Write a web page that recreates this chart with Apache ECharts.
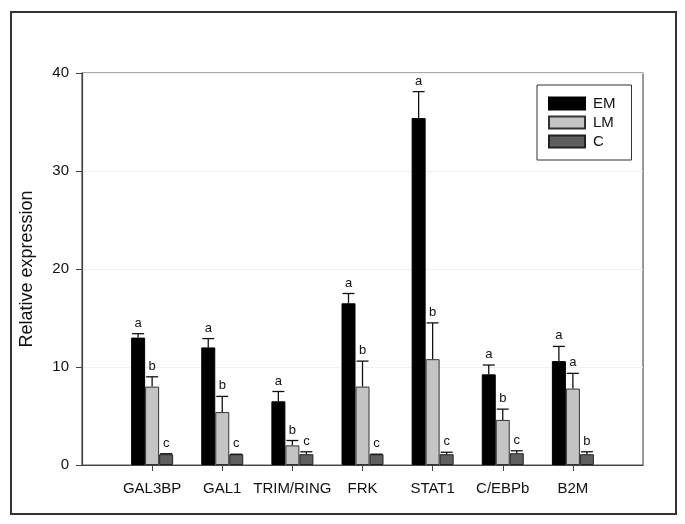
<!DOCTYPE html>
<html>
<head>
<meta charset="utf-8">
<script src="https://cdn.jsdelivr.net/npm/echarts@6/dist/echarts.min.js"></script>
<style>
html,body{margin:0;padding:0;background:#fff;}
#chart{width:685px;height:524px;}
</style>
</head>
<body>
<div id="chart"></div>
<script>
const categories = ['GAL3BP', 'GAL1', 'TRIM/RING', 'FRK', 'STAT1', 'C/EBPb', 'B2M'];
const seriesNames = ['EM', 'LM', 'C'];
const emValues = [13.0, 12.0, 6.5, 16.5, 35.4, 9.25, 10.6];
const emErrors = [0.4, 0.9, 1.0, 1.0, 2.7, 0.95, 1.5];
const lmValues = [8.0, 5.4, 2.0, 8.0, 10.8, 4.6, 7.8];
const lmErrors = [1.0, 1.6, 0.5, 2.6, 3.7, 1.1, 1.55];
const cValues = [1.1, 1.1, 1.1, 1.1, 1.1, 1.2, 1.1];
const cErrors = [0.05, 0.0, 0.25, 0.0, 0.2, 0.25, 0.25];
const emLetters = ['a', 'a', 'a', 'a', 'a', 'a', 'a'];
const lmLetters = ['b', 'b', 'b', 'b', 'b', 'b', 'a'];
const cLetters = ['c', 'c', 'c', 'c', 'c', 'c', 'b'];
const yTicks = [0, 10, 20, 30, 40];

const FONT = 'Liberation Sans, Arial, sans-serif';
const axisCats = [''].concat(categories, ['']);
const nCat = axisCats.length;

function padded(vals) { return ['-'].concat(vals, ['-']); }

function errData(vals, errs, letters) {
  return categories.map((c, i) => [i + 1, vals[i], vals[i] + errs[i], letters[i]]);
}

function errSeries(name, vals, errs, letters, offset) {
  return {
    type: 'custom',
    name: name + ' err',
    silent: true,
    z: 5,
    clip: false,
    encode: { x: 0, y: [1, 2] },
    data: errData(vals, errs, letters),
    renderItem: function (params, api) {
      const c = api.value(0);
      const p0 = api.coord([c, api.value(1)]);
      const p1 = api.coord([c, api.value(2)]);
      const x = p0[0] + offset;
      const children = [];
      if (p0[1] - p1[1] > 0.5) {
        children.push({ type: 'line', shape: { x1: x, y1: p0[1], x2: x, y2: p1[1] }, style: { stroke: '#111', lineWidth: 1.3 } });
      }
      children.push({ type: 'line', shape: { x1: x - 6, y1: p1[1], x2: x + 6, y2: p1[1] }, style: { stroke: '#111', lineWidth: 1.3 } });
      children.push({ type: 'text', style: { text: api.value(3), x: x, y: p1[1] - 4, textAlign: 'center', textVerticalAlign: 'bottom', fontSize: 13, fontFamily: FONT, fill: '#111' } });
      return { type: 'group', children: children };
    }
  };
}

const chart = echarts.init(document.getElementById('chart'), null, { renderer: 'canvas' });
chart.setOption({
  backgroundColor: '#fff',
  animation: false,
  graphic: [{
    type: 'rect', shape: { x: 11, y: 12, width: 665, height: 502 },
    style: { fill: 'none', stroke: '#333', lineWidth: 2 }, silent: true
  }],
  grid: { left: 82, right: 42, top: 73, bottom: 59, show: true, borderColor: '#555', borderWidth: 1.2, backgroundColor: 'transparent' },
  legend: {
    data: seriesNames,
    orient: 'vertical',
    left: 537, top: 85,
    padding: [11, 16, 11, 11],
    borderColor: '#333', borderWidth: 1,
    itemWidth: 36, itemHeight: 12, itemGap: 4,
    icon: 'rect',
    textStyle: { fontSize: 15, fontFamily: FONT, color: '#111', padding: [0, 0, 0, 3] }
  },
  xAxis: {
    type: 'category',
    data: axisCats,
    boundaryGap: false,
    axisLine: { lineStyle: { color: '#444', width: 1.2 } },
    axisTick: { show: true, length: 6, lineStyle: { color: '#444' }, interval: function (i) { return i > 0 && i < nCat - 1; } },
    axisLabel: { interval: 0, fontSize: 15, fontFamily: FONT, color: '#111', margin: 16 },
    splitLine: { show: false }
  },
  yAxis: {
    type: 'value',
    min: yTicks[0], max: yTicks[yTicks.length - 1], interval: 10,
    name: 'Relative expression',
    nameLocation: 'middle',
    nameGap: 46,
    nameTextStyle: { fontSize: 18, fontFamily: FONT, color: '#111' },
    axisLine: { show: true, lineStyle: { color: '#444', width: 1.2 } },
    axisTick: { show: true, length: 6, lineStyle: { color: '#444' } },
    axisLabel: { fontSize: 15, fontFamily: FONT, color: '#111', margin: 13 },
    splitLine: { show: true, lineStyle: { color: '#f1f1f1', width: 1 } }
  },
  series: [
    { type: 'bar', name: 'EM', data: padded(emValues), barWidth: 14, barGap: '0%', itemStyle: { color: '#000', borderColor: '#000', borderWidth: 1 } },
    { type: 'bar', name: 'LM', data: padded(lmValues), barWidth: 14, barGap: '0%', itemStyle: { color: '#c4c4c4', borderColor: '#333', borderWidth: 1 } },
    { type: 'bar', name: 'C', data: padded(cValues), barWidth: 14, barGap: '0%', itemStyle: { color: '#5f5f5f', borderColor: '#222', borderWidth: 1 } },
    errSeries('EM', emValues, emErrors, emLetters, -14),
    errSeries('LM', lmValues, lmErrors, lmLetters, 0),
    errSeries('C', cValues, cErrors, cLetters, 14)
  ]
});
</script>
</body>
</html>
